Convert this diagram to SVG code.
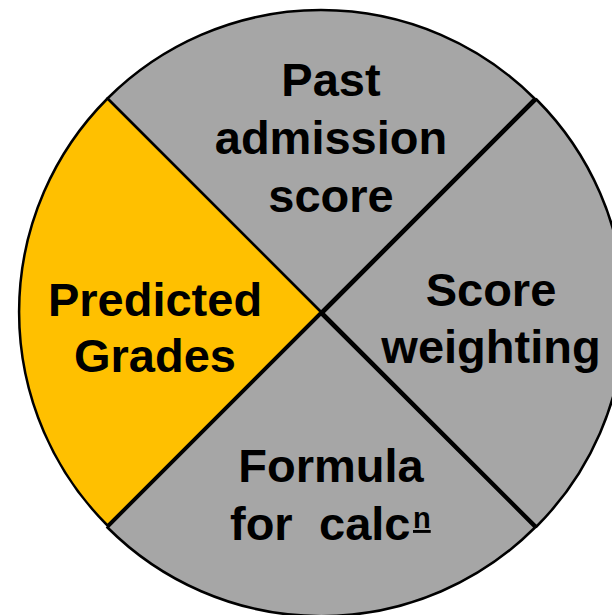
<svg xmlns="http://www.w3.org/2000/svg" width="612" height="615" viewBox="0 0 612 615">
<style>
.sec{stroke:#000;stroke-width:2.5;stroke-linejoin:miter}
.g{fill:#A6A6A6}
.y{fill:#FFC000}
text{font-family:"Liberation Sans",Arial,sans-serif;font-weight:bold;font-size:47px;fill:#000;text-anchor:middle}
</style>
<rect width="612" height="615" fill="#fff"/>
<g id="past-admission-score">
<path class="sec g" d="M321,312 L107.5,98.5 A302,302 0 0 1 534.5,98.5 Z"/>
<text x="331" y="96">Past</text>
<text x="331" y="154">admission</text>
<text x="331" y="212">score</text>
</g>
<g id="score-weighting">
<path class="sec g" d="M323,313 L536.5,99.5 A302,302 0 0 1 536.5,526.5 Z"/>
<text x="491" y="306">Score</text>
<text x="491" y="363">weighting</text>
</g>
<g id="formula">
<path class="sec g" d="M321,314 L535,527.5 A302,302 0 0 1 107.5,527.5 Z"/>
<text x="331" y="482">Formula</text>
<text y="540" style="text-anchor:start"><tspan x="230">for</tspan><tspan x="319">calc</tspan><tspan x="413" y="528" font-size="29" text-decoration="underline">n</tspan></text>
</g>
<g id="predicted-grades">
<path class="sec y" d="M321,312 L107.5,525.5 A302,302 0 0 1 107.5,98.5 Z"/>
<text x="155" y="316">Predicted</text>
<text x="155" y="372">Grades</text>
</g>
<g id="connectors"/>
</svg>
